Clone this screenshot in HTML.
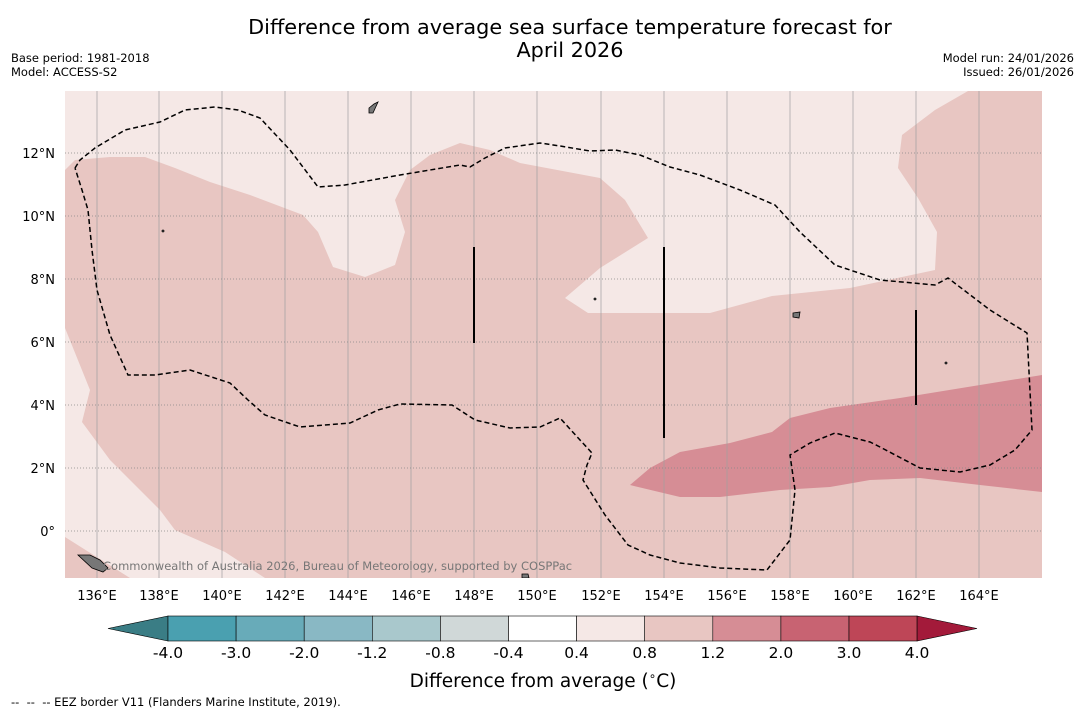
<!DOCTYPE html>
<html><head><meta charset="utf-8"><style>
body{margin:0;background:#fff;font-family:"DejaVu Sans","Liberation Sans",sans-serif;}
</style></head><body>
<svg width="1085" height="713" xmlns="http://www.w3.org/2000/svg" font-family="DejaVu Sans, Liberation Sans, sans-serif">
<text x="570" y="34" font-size="20.8" text-anchor="middle">Difference from average sea surface temperature forecast for</text>
<text x="570" y="57" font-size="20.8" text-anchor="middle">April 2026</text>
<text x="11" y="62" font-size="11.5">Base period: 1981-2018</text>
<text x="11" y="76" font-size="11.5">Model: ACCESS-S2</text>
<text x="1074" y="62" font-size="11.5" text-anchor="end">Model run: 24/01/2026</text>
<text x="1074" y="76" font-size="11.5" text-anchor="end">Issued: 26/01/2026</text>
<defs><clipPath id="mc"><rect x="65" y="91" width="977" height="487"/></clipPath></defs>
<g clip-path="url(#mc)">
<rect x="65" y="91" width="977" height="487" fill="#f5e8e6"/>
<polygon fill="#e8c6c2" points="65,170 75,160 110,157 145,157 175,168 210,182 250,195 303,215 318,232 333,267 365,277 395,265 405,232 395,200 410,170 430,155 460,143 490,150 520,163 600,178 625,200 648,238 600,268 565,298 588,313 710,313 772,296 850,288 935,270 937,232 918,198 898,168 902,135 935,110 968,91 1042,91 1042,578 265,578 225,552 175,530 160,510 110,460 82,422 90,390 65,328"/>
<polygon fill="#e8c6c2" points="65,537 130,578 65,578"/>
<polygon fill="#d68d95" points="630,485 650,468 680,452 730,443 772,432 790,418 830,408 900,398 980,385 1042,375 1042,492 980,485 920,478 870,480 830,487 780,490 720,497 680,497"/>
<g stroke="#a0a0a0" stroke-width="0.7">
<line x1="97" y1="91" x2="97" y2="578"/><line x1="159" y1="91" x2="159" y2="578"/><line x1="222" y1="91" x2="222" y2="578"/><line x1="285" y1="91" x2="285" y2="578"/><line x1="348" y1="91" x2="348" y2="578"/><line x1="411" y1="91" x2="411" y2="578"/><line x1="474" y1="91" x2="474" y2="578"/><line x1="537" y1="91" x2="537" y2="578"/><line x1="601" y1="91" x2="601" y2="578"/><line x1="664" y1="91" x2="664" y2="578"/><line x1="727" y1="91" x2="727" y2="578"/><line x1="790" y1="91" x2="790" y2="578"/><line x1="853" y1="91" x2="853" y2="578"/><line x1="916" y1="91" x2="916" y2="578"/><line x1="979" y1="91" x2="979" y2="578"/>
</g>
<g stroke="#888" stroke-width="0.8" stroke-dasharray="1,2">
<line x1="65" y1="153" x2="1042" y2="153"/><line x1="65" y1="216" x2="1042" y2="216"/><line x1="65" y1="279" x2="1042" y2="279"/><line x1="65" y1="342" x2="1042" y2="342"/><line x1="65" y1="405" x2="1042" y2="405"/><line x1="65" y1="468" x2="1042" y2="468"/><line x1="65" y1="531" x2="1042" y2="531"/>
</g>
<polyline fill="none" stroke="#000" stroke-width="1.5" stroke-dasharray="5,3" points="75,168 80,160 95,148 125,130 160,122 185,110 215,107 238,110 260,118 290,150 318,187 345,185 400,175 460,165 470,167 485,158 505,148 540,143 560,146 590,151 615,150 640,155 670,167 700,175 740,190 775,205 800,232 835,265 880,280 935,285 948,278 990,310 1027,333 1032,430 1015,450 990,465 960,472 920,468 880,447 870,442 835,433 810,443 790,455 795,490 790,540 767,570 720,568 680,563 650,555 628,545 605,515 583,480 587,465 592,453 580,440 560,418 540,427 510,428 475,420 452,405 400,404 378,410 350,423 300,427 265,415 248,400 230,383 190,370 155,375 128,375 110,335 97,290 92,250 88,210 82,190 75,168"/>
<g stroke="#000" stroke-width="2">
<line x1="474" y1="247" x2="474" y2="343"/><line x1="664" y1="247" x2="664" y2="438"/><line x1="916" y1="310" x2="916" y2="405"/>
</g>
<g fill="#777" stroke="#000" stroke-width="0.8">
<polygon points="78,555 90,555 100,560 108,568 103,572 92,568"/>
<polygon points="369,108 374,104 378,102 373,113 369,113"/>
<polygon points="793,313 800,312 799,318 793,317"/>
<polygon points="522,574 528,574 529,578 522,578"/>
<circle cx="163" cy="231" r="1"/><circle cx="946" cy="363" r="1"/><circle cx="595" cy="299" r="1"/>
</g>
<text x="103" y="570" font-size="11.5" fill="#777">Commonwealth of Australia 2026, Bureau of Meteorology, supported by COSPPac</text>
</g>
<g font-size="13" fill="#000">
<text x="55" y="158" text-anchor="end">12°N</text><text x="55" y="221" text-anchor="end">10°N</text><text x="55" y="284" text-anchor="end">8°N</text><text x="55" y="347" text-anchor="end">6°N</text><text x="55" y="410" text-anchor="end">4°N</text><text x="55" y="473" text-anchor="end">2°N</text><text x="55" y="536" text-anchor="end">0°</text>
</g>
<g font-size="13" fill="#000" text-anchor="middle">
<text x="97" y="600">136°E</text><text x="159" y="600">138°E</text><text x="222" y="600">140°E</text><text x="285" y="600">142°E</text><text x="348" y="600">144°E</text><text x="411" y="600">146°E</text><text x="474" y="600">148°E</text><text x="537" y="600">150°E</text><text x="601" y="600">152°E</text><text x="664" y="600">154°E</text><text x="727" y="600">156°E</text><text x="790" y="600">158°E</text><text x="853" y="600">160°E</text><text x="916" y="600">162°E</text><text x="979" y="600">164°E</text>
</g>
<g id="cbar"></g>
<text x="543" y="687" font-size="18.5" text-anchor="middle">Difference from average (<tspan font-size="12" dy="-7">∘</tspan><tspan dy="7">C)</tspan></text>
<text x="11" y="706" font-size="11.5" xml:space="preserve">--  --  -- EEZ border V11 (Flanders Marine Institute, 2019).</text>
</svg>
<script>
const cbColors=["#4aa0b0","#68abb9","#89b8c4","#a9c8cc","#d0d8d8","#ffffff","#f5e8e6","#e8c6c2","#d68d95","#c86372","#be4657"];
const cbLabels=["-4.0","-3.0","-2.0","-1.2","-0.8","-0.4","0.4","0.8","1.2","2.0","3.0","4.0"];
const ns="http://www.w3.org/2000/svg";
const g=document.getElementById('cbar');
const x0=168,w=68.1,y0=616,h=25;
function mk(t,a){const e=document.createElementNS(ns,t);for(const k in a)e.setAttribute(k,a[k]);g.appendChild(e);return e;}
const lt=mk('polygon',{points:`108,${y0+h/2} ${x0},${y0} ${x0},${y0+h}`,fill:'#3a7d85',stroke:'#000','stroke-width':0.6});


cbColors.forEach((c,i)=>{
const r=mk('rect',{x:x0+i*w,y:y0,width:w,height:h,fill:c,stroke:'#000','stroke-width':0.6});


});
const xe=x0+cbColors.length*w;
const rt=mk('polygon',{points:`${xe},${y0} 977,${y0+h/2} ${xe},${y0+h}`,fill:'#a31a3a',stroke:'#000','stroke-width':0.6});


cbLabels.forEach((l,i)=>{
const t=mk('text',{x:x0+i*w,y:658,'font-size':15.5,'text-anchor':'middle'});
t.textContent=l;


});
</script>
</body></html>
